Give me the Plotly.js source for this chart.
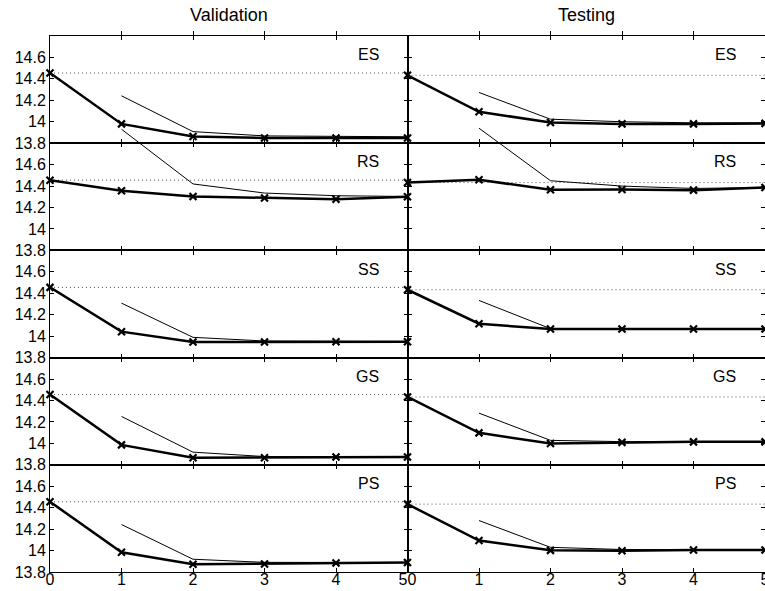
<!DOCTYPE html>
<html>
<head>
<meta charset="utf-8">
<script src="https://cdn.plot.ly/plotly-3.0.1.min.js"></script>
<style>html,body{margin:0;padding:0;background:#fff;}#chart{width:765px;height:591px;}</style>
</head>
<body>
<div id="chart"></div>
<script>
// ---- data ----
const iterations = [0, 1, 2, 3, 4, 5];
const panelNames = ["ES", "RS", "SS", "GS", "PS"];
const columnTitles = ["Validation", "Testing"];
const yTickVals = [13.8, 14, 14.2, 14.4, 14.6];
const yTickText = ["13.8", "14", "14.2", "14.4", "14.6"];
const xTickVals = [0, 1, 2, 3, 4, 5];
const xTickTextVal = ["0", "1", "2", "3", "4", "5\u00A0\u00A0"];
const xTickTextTest = ["\u00A0\u00A00", "1", "2", "3", "4", "5"];

const valBaseline = 14.455;
const testBaseline = 14.433;

// Validation, bold series
const valES = [14.455, 13.980, 13.862, 13.848, 13.848, 13.848];
const valRS = [14.455, 14.356, 14.303, 14.288, 14.278, 14.300];
const valSS = [14.455, 14.042, 13.945, 13.945, 13.948, 13.948];
const valGS = [14.455, 13.986, 13.865, 13.865, 13.872, 13.872];
const valPS = [14.455, 13.984, 13.872, 13.875, 13.884, 13.888];
// Validation, thin series
const valES2 = [null, 14.242, 13.908, 13.868, 13.862, 13.860];
const valRS2 = [null, 14.930, 14.420, 14.335, 14.310, 14.303];
const valSS2 = [null, 14.308, 13.989, 13.955, 13.950, 13.950];
const valGS2 = [null, 14.251, 13.918, 13.877, 13.873, 13.873];
const valPS2 = [null, 14.243, 13.919, 13.890, 13.888, 13.888];

// Testing, bold series
const testES = [14.433, 14.093, 13.993, 13.980, 13.980, 13.985];
const testRS = [14.433, 14.459, 14.365, 14.368, 14.362, 14.387];
const testSS = [14.433, 14.116, 14.066, 14.066, 14.066, 14.066];
const testGS = [14.433, 14.098, 13.999, 14.009, 14.014, 14.014];
const testPS = [14.433, 14.093, 14.002, 13.999, 14.005, 14.005];
// Testing, thin series
const testES2 = [null, 14.273, 14.024, 14.000, 13.990, 13.990];
const testRS2 = [null, 14.940, 14.450, 14.400, 14.378, 14.387];
const testSS2 = [null, 14.333, 14.070, 14.068, 14.067, 14.067];
const testGS2 = [null, 14.282, 14.028, 14.016, 14.015, 14.015];
const testPS2 = [null, 14.280, 14.030, 14.010, 14.006, 14.006];

const bold = [[valES, valRS, valSS, valGS, valPS], [testES, testRS, testSS, testGS, testPS]];
const thin = [[valES2, valRS2, valSS2, valGS2, valPS2], [testES2, testRS2, testSS2, testGS2, testPS2]];
const baselines = [valBaseline, testBaseline];
const xTickTexts = [xTickTextVal, xTickTextTest];

// ---- layout ----
const FONT = "Liberation Sans, Arial, Helvetica, sans-serif";
const yMin = 13.8, yMax = 14.8;
const nRows = 5;
const rowH = 1 / nRows;
const traces = [];
const layout = {
  width: 765, height: 591,
  margin: {l: 50, r: 0, t: 36, b: 19, pad: 0},
  paper_bgcolor: "#ffffff",
  plot_bgcolor: "rgba(0,0,0,0)",
  showlegend: false,
  font: {family: FONT, size: 16, color: "#000"},
  annotations: []
};

function axisIdx(r, c) { return r * 2 + c + 1; }

for (let c = 0; c < 2; c++) {
  for (let r = 0; r < nRows; r++) {
    const i = axisIdx(r, c);
    const xn = "xaxis" + (i === 1 ? "" : i);
    const yn = "yaxis" + (i === 1 ? "" : i);
    const xr = "x" + (i === 1 ? "" : i);
    const yr = "y" + (i === 1 ? "" : i);
    layout[xn] = {
      domain: c === 0 ? [0, 0.5] : [0.5, 1],
      anchor: yr, range: [0, 5], tickvals: xTickVals, ticktext: xTickTexts[c],
      ticks: "inside", ticklen: 4, tickwidth: 1, tickcolor: "#000",
      mirror: "allticks", showline: true, linecolor: "#000", linewidth: 1,
      showgrid: false, zeroline: false,
      showticklabels: r === nRows - 1,
      ticklabeloverflow: "allow", ticklabelstandoff: -7,
      tickfont: {family: FONT, size: 16, color: "#000"}
    };
    layout[yn] = {
      domain: [1 - (r + 1) * rowH, 1 - r * rowH],
      anchor: xr, range: [yMin, yMax], tickvals: yTickVals, ticktext: yTickText,
      ticks: "inside", ticklen: 4, tickwidth: 1, tickcolor: "#000",
      mirror: "allticks", showline: true, linecolor: "#000", linewidth: 1,
      showgrid: false, zeroline: false,
      showticklabels: c === 0, ticklabeloverflow: "allow",
      tickfont: {family: FONT, size: 16, color: "#000"}
    };
    // dotted baseline
    traces.push({
      x: [iterations[0], iterations[iterations.length - 1]],
      y: [baselines[c], baselines[c]],
      xaxis: xr, yaxis: yr, mode: "lines", hoverinfo: "skip",
      line: {color: "#555", width: 1, dash: "1px,3px"}
    });
    // thin series (RS thin overflows upward, drawn on an extended axis)
    let thinY = yr;
    if (panelNames[r] === "RS") {
      const ext = 20 + c + 1;
      layout["yaxis" + ext] = {
        domain: [1 - (r + 1) * rowH, 1 - (r - 1) * rowH],
        anchor: xr, range: [yMin, yMin + 2 * (yMax - yMin)],
        visible: false, showgrid: false, zeroline: false
      };
      thinY = "y" + ext;
    }
    traces.push({
      x: iterations, y: thin[c][r], xaxis: xr, yaxis: thinY,
      mode: "lines", connectgaps: false, hoverinfo: "skip",
      line: {color: "#000", width: 1}
    });
    // bold series
    traces.push({
      x: iterations, y: bold[c][r], xaxis: xr, yaxis: yr,
      mode: "lines+markers", cliponaxis: false, hoverinfo: "skip",
      line: {color: "#000", width: 2.5},
      marker: {symbol: "x-thin-open", size: 7, color: "#000", line: {color: "#000", width: 2.2}}
    });
    // panel label
    layout.annotations.push({
      text: panelNames[r], xref: xr + " domain", yref: yr + " domain",
      x: 0.925, y: 0.825, xanchor: "right", yanchor: "middle",
      showarrow: false, font: {family: FONT, size: 16, color: "#000"}
    });
  }
  // column title
  const topX = "x" + (axisIdx(0, c) === 1 ? "" : axisIdx(0, c));
  const topY = "y" + (axisIdx(0, c) === 1 ? "" : axisIdx(0, c));
  layout.annotations.push({
    text: columnTitles[c], xref: topX + " domain", yref: topY + " domain",
    x: 0.5, y: 1, xanchor: "center", yanchor: "bottom", yshift: 9,
    showarrow: false, font: {family: FONT, size: 18, color: "#000"}
  });
}

Plotly.newPlot("chart", traces, layout, {displayModeBar: false, staticPlot: true});
</script>
</body>
</html>
